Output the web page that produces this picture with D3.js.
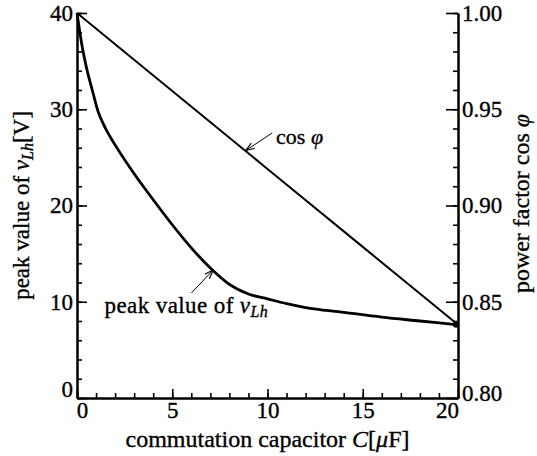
<!DOCTYPE html>
<html>
<head>
<meta charset="utf-8">
<script src="https://cdn.jsdelivr.net/npm/d3@7"></script>
<style>
  html, body { margin: 0; padding: 0; background: #fff; }
  svg { display: block; }
  svg text { font-family: "Liberation Serif", "DejaVu Serif", serif !important; fill: #000; stroke: #000; stroke-width: 0.35px; }
</style>
</head>
<body>
<svg id="chart" width="537" height="456"></svg>
<script>
// ---- data ----
const capC = [0, 0.3, 0.5, 0.8, 1.1, 1.5, 2, 3, 4, 5, 6, 7, 8, 9, 10, 11, 12, 14, 16, 18, 20];
const peakV = [40, 36.2, 34.3, 32.0, 29.8, 28.0, 26.3, 23.3, 20.6, 18.0, 15.6, 13.5, 11.8, 10.8, 10.3, 9.8, 9.4, 8.9, 8.4, 8.0, 7.6];
const cosC = [0, 5, 10, 15, 20];
const cosPhi = [1.000, 0.9595, 0.919, 0.8785, 0.838];
const xTicks = [0, 5, 10, 15, 20];
const xMinor = d3.range(0, 21, 1);
const yLeftTicks = [0, 10, 20, 30, 40];
const yLeftMinor = d3.range(0, 41, 2);
const yRightTicks = [0.80, 0.85, 0.90, 0.95, 1.00];
const yRightMinor = d3.range(80, 101, 1).map(d => d / 100);

const W = 537, H = 456;
const m = { left: 77, right: 79, top: 13, bottom: 58 };
const svg = d3.select("#chart");

const x = d3.scaleLinear().domain([0, 20]).range([m.left, W - m.right]);
const yL = d3.scaleLinear().domain([0, 40]).range([H - m.bottom, m.top]);
const yR = d3.scaleLinear().domain([0.80, 1.00]).range([H - m.bottom, m.top]);

const fs = 23;

// ---- axes ----
function styleAxis(g) {
  g.attr("font-family", null);
  g.select(".domain").attr("stroke", "#000").attr("stroke-width", 2);
  g.selectAll(".tick line").attr("stroke", "#000").attr("stroke-width", 1.6);
  g.selectAll(".tick text").style("font-size", fs + "px");
}

// x axis minor
svg.append("g").attr("transform", `translate(0,${H - m.bottom})`)
  .call(d3.axisBottom(x).tickValues(xMinor).tickSize(-5).tickFormat("").tickSizeOuter(0))
  .call(styleAxis);
// x axis major
const gx = svg.append("g").attr("transform", `translate(0,${H - m.bottom})`)
  .call(d3.axisBottom(x).tickValues(xTicks).tickSize(-9).tickPadding(2).tickFormat(d3.format("d")).tickSizeOuter(0))
  .call(styleAxis);
gx.selectAll(".tick text").attr("dy", "0.8em")
  .attr("dx", d => d === 0 ? 5 : (d === 20 ? -11 : 0));

// left axis
svg.append("g").attr("transform", `translate(${m.left},0)`)
  .call(d3.axisLeft(yL).tickValues(yLeftMinor).tickSize(-5).tickFormat("").tickSizeOuter(0))
  .call(styleAxis);
const gl = svg.append("g").attr("transform", `translate(${m.left},0)`)
  .call(d3.axisLeft(yL).tickValues(yLeftTicks).tickSize(-10).tickPadding(5).tickFormat(d3.format("d")).tickSizeOuter(0))
  .call(styleAxis);
gl.selectAll(".tick text").attr("x", -4).attr("dy", d => d === 0 ? "-0.05em" : "0.32em");

// right axis
svg.append("g").attr("transform", `translate(${W - m.right},0)`)
  .call(d3.axisRight(yR).tickValues(yRightMinor).tickSize(-5).tickFormat("").tickSizeOuter(0))
  .call(styleAxis);
const gr = svg.append("g").attr("transform", `translate(${W - m.right},0)`)
  .call(d3.axisRight(yR).tickValues(yRightTicks).tickSize(-12).tickPadding(5).tickFormat(d3.format(".2f")).tickSizeOuter(0))
  .call(styleAxis);
gr.selectAll(".tick text").attr("x", 4).attr("dy", d => d === 0.80 ? "0.1em" : "0.32em");

// ---- curves ----
const peakData = capC.map((c, i) => [c, peakV[i]]);
const cosData = cosC.map((c, i) => [c, cosPhi[i]]);

svg.append("path").datum(cosData)
  .attr("fill", "none").attr("stroke", "#000").attr("stroke-width", 2)
  .attr("d", d3.line().x(d => x(d[0])).y(d => yR(d[1])));

svg.append("path").datum(peakData)
  .attr("fill", "none").attr("stroke", "#000").attr("stroke-width", 2.8)
  .attr("stroke-linejoin", "round")
  .attr("d", d3.line().curve(d3.curveMonotoneX).x(d => x(d[0])).y(d => yL(d[1])));

svg.append("circle").attr("cx", x(20) - 2).attr("cy", yL(peakV[peakV.length - 1])).attr("r", 3).attr("fill", "#000");

// ---- annotations ----
svg.append("defs").append("marker")
  .attr("id", "arr").attr("viewBox", "0 0 10 10").attr("refX", 10).attr("refY", 5)
  .attr("markerWidth", 9).attr("markerHeight", 9).attr("orient", "auto")
  .attr("markerUnits", "userSpaceOnUse")
  .append("path").attr("d", "M0,1.5 L10,5 L0,8.5").attr("fill", "none").attr("stroke", "#000").attr("stroke-width", 1.3);

// cos phi arrow
svg.append("line")
  .attr("x1", x(10.25)).attr("y1", yR(0.9377))
  .attr("x2", x(8.85)).attr("y2", yR(0.9285))
  .attr("stroke", "#000").attr("stroke-width", 1).attr("marker-end", "url(#arr)");
const tc = svg.append("text").attr("x", x(10.45)).attr("y", yR(0.932)).style("font-size", "22px");
tc.append("tspan").text("cos ");
tc.append("tspan").style("font-style", "italic").text("φ");

// peak arrow
svg.append("line")
  .attr("x1", x(6.0)).attr("y1", yL(10.9))
  .attr("x2", x(7.15)).attr("y2", yL(13.3))
  .attr("stroke", "#000").attr("stroke-width", 1).attr("marker-end", "url(#arr)");
const tp = svg.append("text").attr("x", x(1.45)).attr("y", yL(8.8)).style("font-size", "23px").style("letter-spacing", "0.4px");
tp.append("tspan").text("peak value of ");
tp.append("tspan").style("font-style", "italic").text("v");
tp.append("tspan").style("font-style", "italic").style("font-size", "16px").attr("dy", 4).text("Lh");

// ---- axis titles ----
const tx = svg.append("text").attr("x", (m.left + W - m.right) / 2 + 0).attr("y", 447)
  .attr("text-anchor", "middle").style("font-size", "24px");
tx.append("tspan").text("commutation capacitor ");
tx.append("tspan").style("font-style", "italic").text("C");
tx.append("tspan").text("[");
tx.append("tspan").style("font-style", "italic").text("μ");
tx.append("tspan").text("F]");

const tl = svg.append("text").attr("transform", `translate(29,${(m.top + H - m.bottom) / 2}) rotate(-90)`)
  .attr("text-anchor", "middle").style("font-size", "23px");
tl.append("tspan").text("peak value of ");
tl.append("tspan").style("font-style", "italic").text("v");
tl.append("tspan").style("font-style", "italic").style("font-size", "16px").attr("dy", 4).text("Lh");
tl.append("tspan").attr("dy", -4).text("[V]");

const trt = svg.append("text").attr("transform", `translate(529,${(m.top + H - m.bottom) / 2 - 2}) rotate(-90)`)
  .attr("text-anchor", "middle").style("font-size", "24px");
trt.append("tspan").text("power factor cos ");
trt.append("tspan").style("font-style", "italic").text("φ");
</script>
</body>
</html>
